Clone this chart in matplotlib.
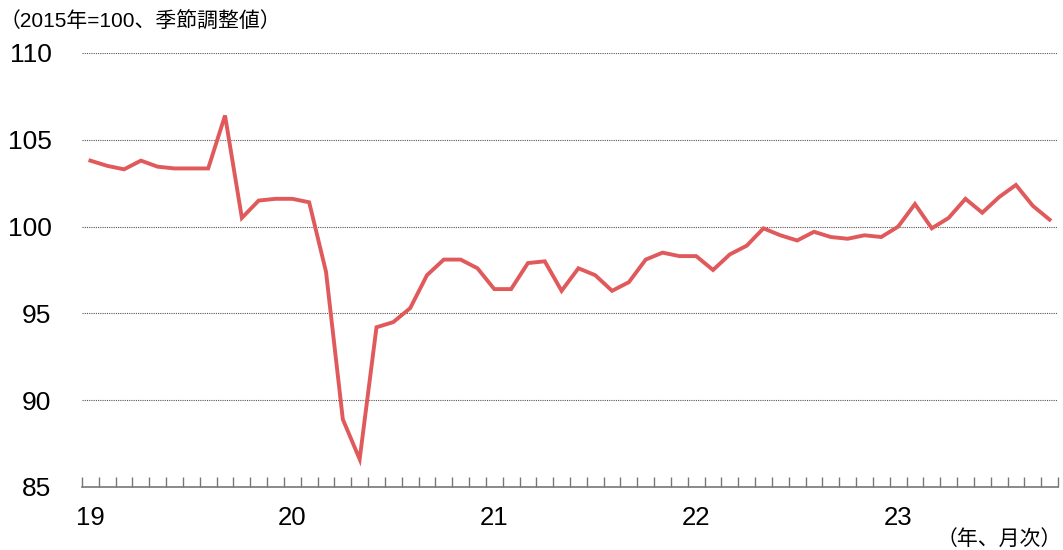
import matplotlib
matplotlib.use("Agg")
import matplotlib.pyplot as plt
import numpy as np

plt.rcParams['font.family'] = ['Liberation Sans', 'Noto Sans CJK JP', 'DejaVu Sans']

values = [103.8, 103.5, 103.3, 103.8, 103.45, 103.35, 103.35, 103.35, 106.4, 100.5,
          101.5, 101.6, 101.6, 101.4, 97.4, 88.9, 86.6, 94.2, 94.5, 95.3,
          97.2, 98.1, 98.1, 97.6, 96.4, 96.4, 97.9, 98.0, 96.3, 97.6,
          97.2, 96.3, 96.8, 98.1, 98.5, 98.3, 98.3, 97.5, 98.4, 98.9,
          99.9, 99.5, 99.2, 99.7, 99.4, 99.3, 99.5, 99.4, 100.0, 101.3,
          99.9, 100.5, 101.6, 100.8, 101.7, 102.4, 101.2, 100.4]
year_labels = ['19', '20', '21', '22', '23']
y_ticks = [85, 90, 95, 100, 105, 110]
unit_label = '（2015年=100、季節調整値）'
x_unit_label = '（年、月次）'

fig = plt.figure(figsize=(10.63, 5.5), dpi=100)
ax = fig.add_axes([82/1063, 1-487/550, (1058-82)/1063, (487-53)/550])

n = len(values)
x = np.arange(n) + 0.5
ax.plot(x, values, color='#E05A5C', linewidth=2.8, solid_joinstyle='miter', clip_on=False, zorder=3)

ax.set_xlim(0, n)
ax.set_ylim(85, 110)
ax.set_yticks(y_ticks)
ax.set_yticklabels([str(v) for v in y_ticks], fontsize=19)
ax.tick_params(axis='y', length=0, pad=22)

for v in y_ticks[1:]:
    ax.axhline(v, color='#555555', linewidth=0.8, linestyle=(0, (1, 1)), zorder=1)

ax.set_xticks([12*i + 0.5 for i in range(len(year_labels))])
ax.set_xticklabels(year_labels, fontsize=18.5)
ax.tick_params(axis='x', which='major', length=0, pad=14)
ax.set_xticks(np.arange(0, n + 1), minor=True)
ax.tick_params(axis='x', which='minor', direction='in', length=7, width=1, color='#777777')

for s in ['top', 'right', 'left']:
    ax.spines[s].set_visible(False)
ax.spines['bottom'].set_color('#777777')
ax.spines['bottom'].set_linewidth(1.2)

fig.text(0/1063, 1-22/550, unit_label, fontsize=15, va='center', ha='left')
fig.text(1062/1063, 1-539/550, x_unit_label, fontsize=15, va='center', ha='right')

fig.savefig('out.png', dpi=100)
